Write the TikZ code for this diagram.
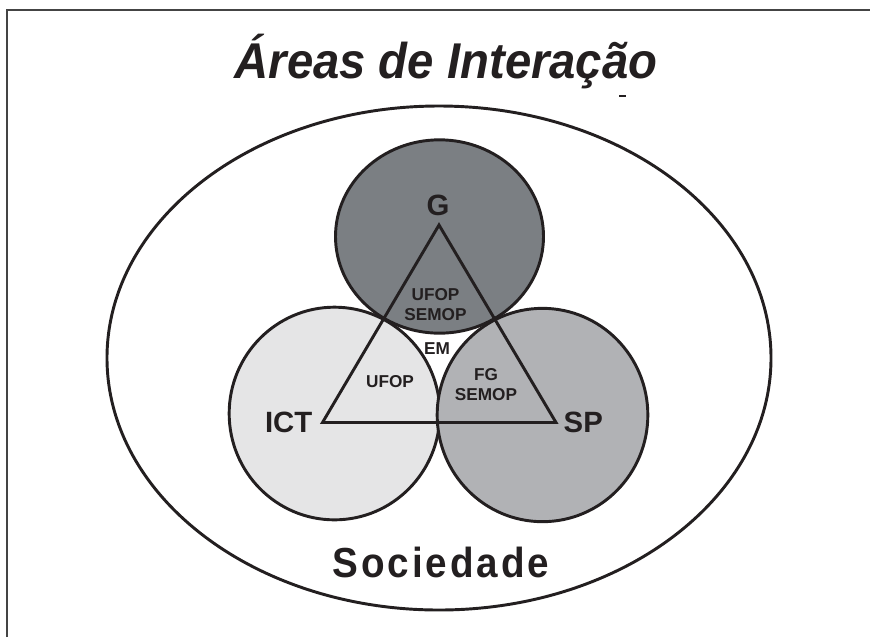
\documentclass[tikz,border=0pt]{standalone}
\usepackage{fontspec}
\setmainfont{Liberation Sans}
\newfontfamily\socfont[LetterSpace=7,FakeStretch=0.92]{Liberation Sans}
\newfontfamily\titlefont[FakeStretch=0.94]{Liberation Sans}
\usetikzlibrary{shapes.geometric}
\definecolor{ink}{HTML}{231F20}
\definecolor{gfill}{HTML}{7B7F83}
\definecolor{ictfill}{HTML}{E5E5E6}
\definecolor{spfill}{HTML}{B1B2B5}
\definecolor{framecol}{HTML}{444444}
\tikzset{
  ring/.style={ellipse, draw=ink, line width=2.2pt, inner sep=0pt, outer sep=0pt},
  bigl/.style={font=\fontsize{22}{24}\selectfont\bfseries, text=ink, inner sep=0pt},
  smalll/.style={font=\fontsize{12.9}{15}\selectfont\bfseries, text=ink, inner sep=0pt, align=center},
}
\begin{document}
\begin{tikzpicture}[x=0.75pt,y=-0.75pt]
\useasboundingbox (0,0) rectangle (870,637);
% frame
\coordinate (f1) at (7,637);
\coordinate (f2) at (7,9.5);
\coordinate (f3) at (870,9.5);
\draw[framecol, line width=1.5pt] (f1) -- (f2) -- (f3);
% title
\node[anchor=base, font=\fontsize{37.7}{42}\titlefont\bfseries\itshape, text=ink, inner sep=0pt] (title) at (446,78) {Áreas de Interação};
\coordinate (m1) at (619,96);
\coordinate (m2) at (626,96);
\draw[ink, line width=1.1pt] (m1) -- (m2);
% outer ellipse
\node[ring, minimum width=498pt, minimum height=378pt] (soc) at (439,358) {};
% circles
\node[ring, fill=gfill, minimum width=156pt, minimum height=145pt] (cg) at (439.5,236.5) {};
\node[ring, fill=ictfill, minimum width=158pt, minimum height=159.5pt] (cict) at (334.5,413.5) {};
\node[ring, fill=spfill, minimum width=158pt, minimum height=160pt] (csp) at (542.5,415) {};
% triangle
\coordinate (tg) at (439,225);
\coordinate (ti) at (322.5,422.5);
\coordinate (ts) at (556,422.5);
\draw[ink, line width=2.2pt, line join=miter] (tg) -- (ti) -- (ts) -- cycle;
% labels
\node[bigl] (lg) at (438,205.5) {G};
\node[bigl] (lict) at (288.7,422.5) {ICT};
\node[bigl] (lsp) at (583.3,422.5) {SP};
\node[smalll] (l1) at (435.5,304.5) {UFOP\\SEMOP};
\node[smalll] (l2) at (437,349) {EM};
\node[smalll] (l3) at (390,381.5) {UFOP};
\node[smalll] (l4) at (486,385) {FG\\SEMOP};
\node[font=\fontsize{31.5}{34}\socfont\bfseries, text=ink, inner sep=0pt] (lsoc) at (441,562) {Sociedade};
\end{tikzpicture}
\end{document}
